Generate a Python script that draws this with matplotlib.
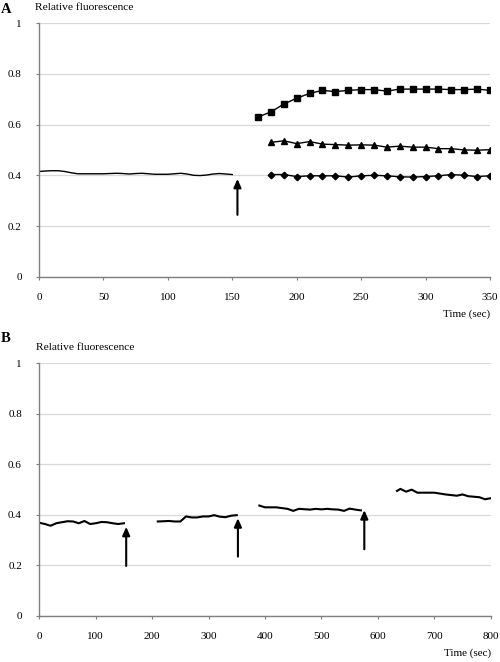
import matplotlib.pyplot as plt

plt.rcParams['font.family'] = ['Liberation Serif', 'DejaVu Serif']

# ---- panel A data ----
a_base_t = list(range(0, 155, 5))
a_base_f = [0.415, 0.417, 0.418, 0.418, 0.415, 0.410, 0.406, 0.406, 0.406, 0.406,
            0.406, 0.407, 0.408, 0.407, 0.405, 0.407, 0.408, 0.406, 0.404, 0.404,
            0.404, 0.406, 0.408, 0.405, 0.400, 0.399, 0.401, 0.405, 0.407, 0.405, 0.403]

a_sq_t = list(range(170, 360, 10))
a_sq_f = [0.630, 0.650, 0.681, 0.704, 0.723, 0.735, 0.730, 0.735, 0.738, 0.738,
          0.732, 0.740, 0.740, 0.740, 0.740, 0.738, 0.738, 0.740, 0.735]

a_tri_t = list(range(180, 360, 10))
a_tri_f = [0.530, 0.536, 0.525, 0.533, 0.523, 0.521, 0.519, 0.520, 0.519, 0.511,
           0.515, 0.511, 0.511, 0.505, 0.505, 0.500, 0.499, 0.501]

a_dia_t = list(range(180, 360, 10))
a_dia_f = [0.403, 0.403, 0.395, 0.398, 0.398, 0.398, 0.393, 0.398, 0.400, 0.398,
           0.394, 0.393, 0.395, 0.398, 0.403, 0.400, 0.395, 0.398]

a_arrows = [(154, 0.244, 0.386)]

# ---- panel B data ----
b_seg1_t = [0, 10, 20, 30, 40, 50, 60, 70, 80, 90, 100, 110, 120, 130, 140, 150]
b_seg1_f = [0.369, 0.364, 0.357, 0.367, 0.371, 0.375, 0.374, 0.367, 0.376, 0.364,
            0.367, 0.372, 0.371, 0.367, 0.364, 0.367]

b_seg2_t = [210, 230, 240, 250, 260, 270, 280, 290, 300, 310, 320, 330, 340, 350]
b_seg2_f = [0.374, 0.376, 0.374, 0.374, 0.394, 0.390, 0.390, 0.394, 0.394, 0.399,
            0.393, 0.391, 0.397, 0.399]

b_seg3_t = [390, 400, 420, 440, 450, 460, 480, 490, 500, 510, 520, 530, 540, 550, 560, 570]
b_seg3_f = [0.437, 0.430, 0.430, 0.424, 0.416, 0.424, 0.421, 0.424, 0.422, 0.424,
            0.422, 0.421, 0.416, 0.425, 0.421, 0.418]

b_seg4_t = [634, 640, 650, 660, 670, 680, 700, 720, 740, 750, 760, 780, 790, 800]
b_seg4_f = [0.495, 0.503, 0.492, 0.500, 0.488, 0.488, 0.488, 0.481, 0.476, 0.481,
            0.474, 0.470, 0.462, 0.466]

b_arrows = [(154, 0.198, 0.353), (352, 0.235, 0.387), (576, 0.264, 0.419)]

y_ticks = [0, 0.2, 0.4, 0.6, 0.8, 1]
y_labels = ['0', '0.2', '0.4', '0.6', '0.8', '1']


def style_axes(ax, xmax, xstep):
    ax.set_xlim(0, xmax)
    ax.set_ylim(0, 1)
    ax.set_yticks(y_ticks)
    ax.set_yticklabels(y_labels)
    ax.set_xticks(range(0, xmax + 1, xstep))
    for s in ['top', 'right']:
        ax.spines[s].set_visible(False)
    for s in ['left', 'bottom']:
        ax.spines[s].set_color('#7f7f7f')
        ax.spines[s].set_linewidth(1.0)
    ax.grid(axis='y', color='#d9d9d9', lw=0.9)
    ax.set_axisbelow(True)
    ax.tick_params(axis='both', colors='#7f7f7f', labelcolor='black', labelsize=8,
                   length=2.5, width=0.8)
    ax.tick_params(axis='x', pad=9)
    ax.tick_params(axis='y', pad=10)
    ax.text(1.0, -0.13, 'Time (sec)', transform=ax.transAxes, ha='right', va='top',
            fontsize=8)
    ax.text(-0.008, 1.045, 'Relative fluorescence', transform=ax.transAxes,
            ha='left', va='bottom', fontsize=8.2)


def draw_arrow(ax, x, y0, y1):
    ax.annotate('', xy=(x, y1), xytext=(x, y0),
                arrowprops=dict(arrowstyle='-|>,head_length=0.5,head_width=0.22',
                                color='black', lw=1.5,
                                mutation_scale=10, shrinkA=0, shrinkB=0))


fig = plt.figure(figsize=(5, 6.62), dpi=100)

axA = fig.add_axes([0.078, 0.582, 0.902, 0.383])
style_axes(axA, 350, 50)
axA.plot(a_base_t, a_base_f, color='black', lw=1.0)
axA.plot(a_sq_t, a_sq_f, color='black', lw=1.0, marker='s', ms=3.8)
axA.plot(a_tri_t, a_tri_f, color='black', lw=1.0, marker='^', ms=4.2)
axA.plot(a_dia_t, a_dia_f, color='black', lw=1.0, marker='D', ms=3.3)
for x, y0, y1 in a_arrows:
    draw_arrow(axA, x, y0, y1)
fig.text(0.002, 0.985, 'A', fontsize=10.5, fontweight='bold', va='center')

axB = fig.add_axes([0.0786, 0.0695, 0.9028, 0.3817])
style_axes(axB, 800, 100)
for t, f in [(b_seg1_t, b_seg1_f), (b_seg2_t, b_seg2_f),
             (b_seg3_t, b_seg3_f), (b_seg4_t, b_seg4_f)]:
    axB.plot(t, f, color='black', lw=1.5)
for x, y0, y1 in b_arrows:
    draw_arrow(axB, x, y0, y1)
fig.text(0.002, 0.488, 'B', fontsize=10.5, fontweight='bold', va='center')

fig.savefig('out.png', dpi=100)
